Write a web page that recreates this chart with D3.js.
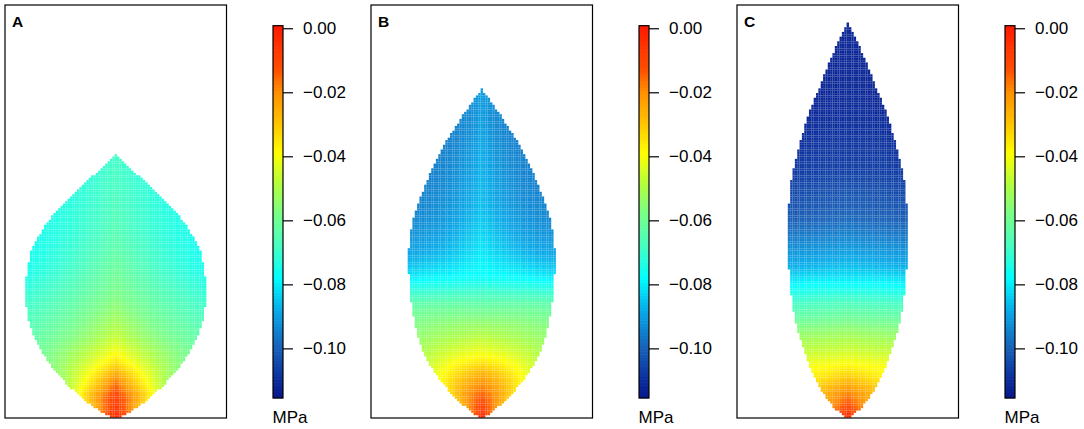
<!DOCTYPE html>
<html>
<head>
<meta charset="utf-8">
<script src="https://cdn.jsdelivr.net/npm/d3@7"></script>
<style>
  body { margin: 0; background: #fff; }
  svg { display: block; font-family: "Liberation Sans", Arial, sans-serif; }
</style>
</head>
<body>
<div class="rep"></div>
<script>
// panel labels
var panelLabels = ["A", "B", "C"];

// leaf outlines: height above base and half width (same units)
var outlineA_h = [0, 2.5, 8.4, 16.4, 24.4, 32.5, 36.6, 40.6, 44.7, 48.7, 52.7, 56.8, 60.0, 63.9];
var outlineA_w = [0.7, 5.3, 12.1, 18.2, 21.3, 21.8, 21.3, 20.4, 18.2, 15.5, 11.7, 7.7, 3.8, 0];
var outlineB_h = [0, 2.4, 8.2, 16.2, 24.2, 32.4, 40.4, 48.4, 56.7, 64.6, 72.6, 79.7];
var outlineB_w = [0.5, 3.8, 9.4, 14.3, 16.5, 17.5, 17.7, 16.5, 13.5, 9.9, 5.0, 0];
var outlineC_h = [0, 2.4, 8.2, 16.2, 24.2, 32.4, 40.4, 48.4, 56.7, 64.6, 72.6, 80.9, 88.9, 95.6];
var outlineC_w = [0.5, 3.3, 7.3, 10.6, 12.8, 14.0, 14.4, 14.4, 13.8, 12.0, 9.8, 6.5, 3.3, 0];

// water potential (MPa) at the midrib, half way out, and at the margin, by height
var valA_h    = [0, 2.4, 4.8, 8.2, 13.1, 16.2, 19.4, 28.3, 36.3, 44.5, 56.7, 63.9];
var valA_mid  = [-0.002, -0.006, -0.009, -0.016, -0.033, -0.040, -0.046, -0.056, -0.061, -0.065, -0.068, -0.069];
var valA_half = [-0.003, -0.016, -0.021, -0.034, -0.046, -0.051, -0.056, -0.064, -0.069, -0.071, -0.070, -0.069];
var valA_edge = [-0.004, -0.026, -0.037, -0.050, -0.057, -0.060, -0.063, -0.070, -0.075, -0.075, -0.072, -0.069];

var valB_h    = [0, 1.7, 5.8, 10.7, 13.8, 18.6, 23.5, 27.6, 30.8, 33.9, 37.3, 41.2, 49.4, 64.6, 72.6, 79.7];
var valB_mid  = [-0.002, -0.007, -0.015, -0.026, -0.036, -0.046, -0.055, -0.063, -0.070, -0.077, -0.079, -0.081, -0.085, -0.088, -0.090, -0.090];
var valB_half = [-0.003, -0.013, -0.022, -0.033, -0.040, -0.049, -0.056, -0.063, -0.071, -0.078, -0.083, -0.087, -0.091, -0.093, -0.093, -0.090];
var valB_edge = [-0.004, -0.020, -0.033, -0.042, -0.047, -0.053, -0.058, -0.064, -0.072, -0.080, -0.086, -0.090, -0.094, -0.095, -0.094, -0.090];

var valC_h    = [0, 2.4, 6.5, 9.7, 13.1, 16.2, 20.3, 24.2, 28.3, 32.4, 36.3, 40.4, 44.6, 48.4, 55.0, 60.5, 76.7, 95.6];
var valC_mid  = [-0.002, -0.010, -0.020, -0.030, -0.039, -0.045, -0.052, -0.060, -0.068, -0.078, -0.085, -0.090, -0.095, -0.099, -0.103, -0.107, -0.111, -0.112];
var valC_half = [-0.003, -0.014, -0.024, -0.033, -0.040, -0.046, -0.053, -0.061, -0.069, -0.078, -0.086, -0.091, -0.096, -0.100, -0.104, -0.107, -0.111, -0.112];
var valC_edge = [-0.004, -0.018, -0.028, -0.036, -0.041, -0.047, -0.054, -0.062, -0.070, -0.079, -0.087, -0.092, -0.097, -0.101, -0.105, -0.108, -0.112, -0.112];

// colour bar
var barTicks = [0, -0.02, -0.04, -0.06, -0.08, -0.10];
var barRange = [-0.1155, 0.0008];
var colStops  = [-0.1155, -0.1105, -0.100, -0.0885, -0.078, -0.069, -0.058, -0.049, -0.039, -0.029, -0.020, -0.013, 0.0008];
var colValues = ["#08188a", "#0a2a9a", "#1860b8", "#08a8e8", "#00ffff", "#40ffc8", "#78ff88", "#b0ff40", "#ffff00", "#ffc000", "#ff9000", "#ff5000", "#ff1a00"];

var cellSize = 0.57;

var panels = [
    {label: panelLabels[0], oh: outlineA_h, ow: outlineA_w, vh: valA_h, vm: valA_mid, vq: valA_half, ve: valA_edge},
    {label: panelLabels[1], oh: outlineB_h, ow: outlineB_w, vh: valB_h, vm: valB_mid, vq: valB_half, ve: valB_edge},
    {label: panelLabels[2], oh: outlineC_h, ow: outlineC_w, vh: valC_h, vm: valC_mid, vq: valC_half, ve: valC_edge}
];

var colour = d3.scaleLinear().domain(colStops).range(colValues).clamp(true);

// smooth curve through the readings (cubic hermite)
function smooth(xs, ys) {
    var n = xs.length, m = [];
    for (var k = 0; k < n; k++) {
        if (k == 0) m.push((ys[1] - ys[0]) / (xs[1] - xs[0]));
        else if (k == n - 1) m.push((ys[n-1] - ys[n-2]) / (xs[n-1] - xs[n-2]));
        else m.push((ys[k+1] - ys[k-1]) / (xs[k+1] - xs[k-1]));
    }
    return function(x) {
        if (x <= xs[0]) return ys[0];
        if (x >= xs[n-1]) return ys[n-1];
        var k = d3.bisectRight(xs, x) - 1;
        var dx = xs[k+1] - xs[k], t = (x - xs[k]) / dx;
        var t2 = t * t, t3 = t2 * t;
        return (2*t3 - 3*t2 + 1) * ys[k] + (t3 - 2*t2 + t) * dx * m[k] +
               (-2*t3 + 3*t2) * ys[k+1] + (t3 - t2) * dx * m[k+1];
    };
}

function buildCells(p) {
    var hw = smooth(p.oh, p.ow);
    var mid = smooth(p.vh, p.vm);
    var half = smooth(p.vh, p.vq);
    var edge = smooth(p.vh, p.ve);
    var top = p.oh[p.oh.length - 1];
    var cells = [];
    for (var j = 0; (j + 0.5) * cellSize < top; j++) {
        var h = (j + 0.5) * cellSize;
        var w = hw(h);
        var n = Math.ceil(w / cellSize) + 1;
        var a = mid(h), q = half(h), e = edge(h);
        for (var i = -n; i <= n; i++) {
            var x = i * cellSize;
            if (Math.abs(x) > w) continue;
            var r = w > 0 ? Math.min(1, Math.abs(x) / w) : 0;
            // quadratic through midrib, half way and margin readings
            var v = a + (-3*a + 4*q - e) * r + (2*a - 4*q + 2*e) * r * r;
            cells.push({x: x, h: h, v: v});
        }
    }
    return cells;
}

var svg = d3.select(".rep").append("svg")
    .attr("width", 1084)
    .attr("height", 429);

var step = 366;
var frameW = 221.5;

panels.forEach(function(p, k) {
    var left = 5 + k * step;
    var xs = d3.scaleLinear().domain([-26.85, 26.85]).range([left, left + frameW]);
    var ys = d3.scaleLinear().domain([0, 100]).range([417.5, 5]);
    var cpx = xs(cellSize) - xs(0);

    var g = svg.append("g");
    g.selectAll("rect.cell")
        .data(buildCells(p))
        .enter().append("rect")
        .attr("class", "cell")
        .attr("x", function(d) { return xs(d.x - cellSize / 2); })
        .attr("y", function(d) { return ys(d.h + cellSize / 2); })
        .attr("width", cpx + 0.1)
        .attr("height", cpx + 0.1)
        .style("fill", function(d) { return colour(d.v); })
        .style("stroke", "#fff")
        .style("stroke-width", 0.25)
        .style("stroke-opacity", 0.18);

    // frame
    g.append("rect")
        .attr("x", left).attr("y", 5)
        .attr("width", frameW).attr("height", 413)
        .style("fill", "none")
        .style("stroke", "black")
        .style("stroke-width", "1.2px");

    g.append("text")
        .text(p.label)
        .attr("x", left + 7).attr("y", 27.3)
        .style("font-weight", "bold")
        .style("font-size", "15.5px");

    // colour bar
    var bx = left + 268, bw = 10;
    var by = d3.scaleLinear().domain(barRange).range([398, 25.7]);
    var bands = d3.range(120).map(function(i) {
        return barRange[0] + (barRange[1] - barRange[0]) * i / 120;
    });
    var bandH = (by(barRange[0]) - by(barRange[1])) / 120;
    g.selectAll("rect.band")
        .data(bands)
        .enter().append("rect")
        .attr("class", "band")
        .attr("x", bx)
        .attr("y", function(d) { return by(d) - bandH - 0.3; })
        .attr("width", bw)
        .attr("height", bandH + 0.6)
        .style("fill", function(d) { return colour(d + (barRange[1] - barRange[0]) / 240); });
    g.append("rect")
        .attr("x", bx).attr("y", 25.7)
        .attr("width", bw).attr("height", 398 - 25.7)
        .style("fill", "none")
        .style("stroke", "black")
        .style("stroke-width", "1.2px");

    var axis = d3.axisRight(by)
        .tickValues(barTicks)
        .tickSize(10)
        .tickPadding(10)
        .tickFormat(d3.format(".2f"));
    var ax = g.append("g")
        .attr("transform", "translate(" + (bx + bw) + ",0)")
        .call(axis);
    ax.select(".domain").remove();
    ax.selectAll(".tick line").style("stroke-width", "1.2px");
    ax.selectAll(".tick text")
        .style("font-size", "17px")
        .style("font-family", "Liberation Sans, Arial, sans-serif");

    g.append("text")
        .text("MPa")
        .attr("x", bx - 0.5).attr("y", 423)
        .style("font-size", "17px");
});
</script>
</body>
</html>
